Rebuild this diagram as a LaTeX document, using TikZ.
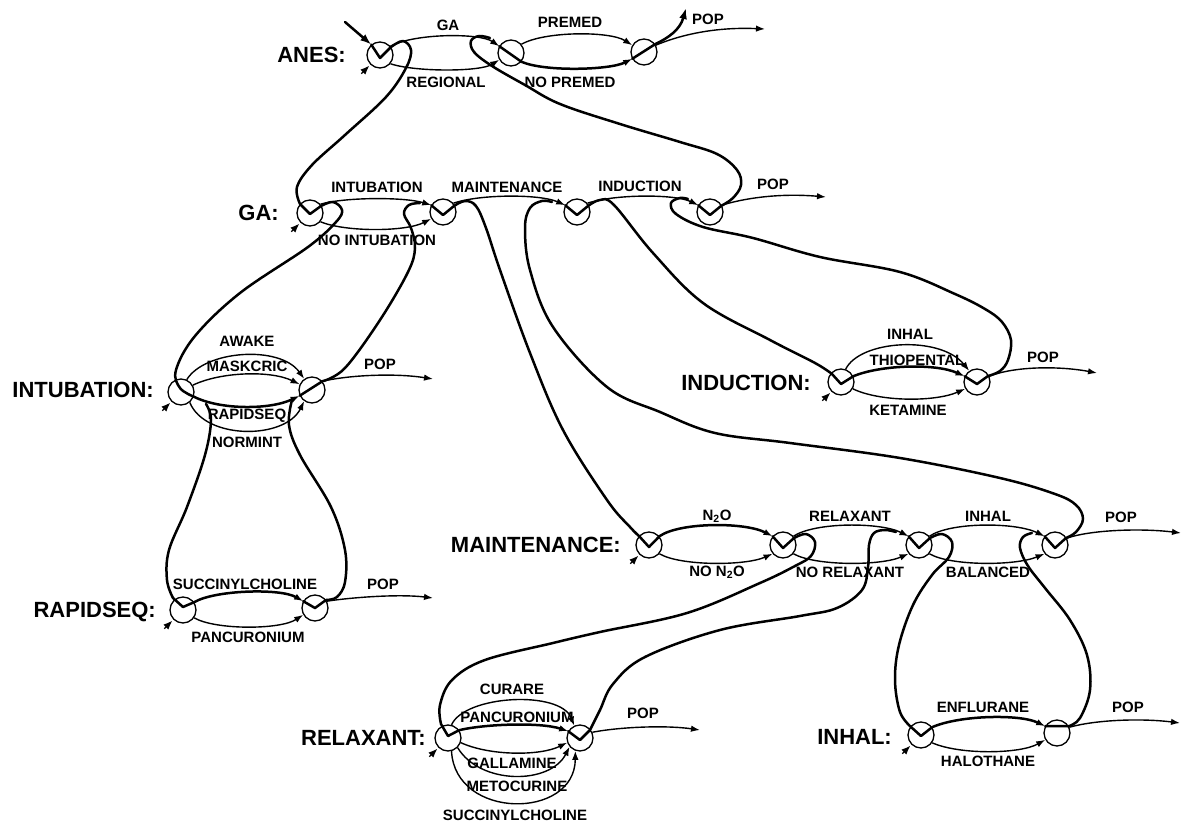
\documentclass[tikz,border=0pt]{standalone}
\usepackage{fontspec}
\setmainfont{Liberation Sans}
\usetikzlibrary{arrows.meta,calc}
\begin{document}
\begin{tikzpicture}[x=1pt,y=-1pt,
  st/.style={circle,draw,line width=1.3pt,minimum size=26pt,inner sep=0pt},
  arc/.style={line width=1.4pt,-{Latex[length=9pt,width=6.5pt]}},
  tarc/.style={line width=2.5pt,-{Latex[length=9pt,width=6.5pt]}},
  tp/.style={line width=2.5pt,line join=round,line cap=round},
  lab/.style={font=\bfseries\fontsize{15}{15}\selectfont,inner sep=0pt},
  big/.style={font=\bfseries\fontsize{22}{22}\selectfont,inner sep=0pt,anchor=east},
  entry/.style={-{Latex[length=9pt,width=7pt]},line width=1.2pt}]
\useasboundingbox[fill=white] (0,0) rectangle (1184,826);

% ---------- states ----------
\node[st] (A1) at (380,55) {};
\node[st] (A2) at (511,53) {};
\node[st] (A3) at (644,52) {};
\node[st] (G1) at (310,213) {};
\node[st] (G2) at (443,212) {};
\node[st] (G3) at (577,212) {};
\node[st] (G4) at (710,212) {};
\node[st] (I1) at (181,392) {};
\node[st] (I2) at (312,390) {};
\node[st] (R1) at (183,610) {};
\node[st] (R2) at (315,608) {};
\node[st] (D1) at (841,382) {};
\node[st] (D2) at (977,382) {};
\node[st] (M1) at (649,545) {};
\node[st] (M2) at (783,545) {};
\node[st] (M3) at (919,545) {};
\node[st] (M4) at (1055,545) {};
\node[st] (L1) at (448,738) {};
\node[st] (L2) at (580,738) {};
\node[st] (H1) at (921,735) {};
\node[st] (H2) at (1057,733) {};

% ---------- network names ----------
\node[big] (nA) at (346,55) {ANES:};
\node[big] (nG) at (279,213) {GA:};
\node[big] (nI) at (154,390) {INTUBATION:};
\node[big] (nR) at (156,612) {RAPIDSEQ:};
\node[big] (nD) at (811,383) {INDUCTION:};
\node[big] (nM) at (621,545) {MAINTENANCE:};
\node[big] (nL) at (426,738) {RELAXANT:};
\node[big] (nH) at (892,737) {INHAL:};

% ---------- entry markers ----------
\foreach \s in {A1,G1,I1,R1,D1,M1,L1,H1}
  \draw[entry] ($(\s.225)+(-9,9)$) -- ($(\s.225)+(-1,1)$);

% ---------- ANES arcs ----------
\draw[arc] (A1.40) .. controls (415,33) and (480,33) .. (A2.150);
\draw[arc] (A1.-40) .. controls (415,72) and (480,72) .. (A2.-150);
\draw[arc] (A2.40) .. controls (545,31) and (610,31) .. (A3.150);
\draw[tarc] (A2.-40) .. controls (545,72) and (610,70) .. (A3.-150);
\draw[arc] (A3.30) .. controls (685,33) and (720,27) .. (765,29);
\node[lab] (tGA) at (448,25) {GA};
\node[lab] (tREG) at (446,82) {REGIONAL};
\node[lab] (tPRE) at (570,22) {PREMED};
\node[lab] (tNPR) at (570,82) {NO PREMED};
\node[lab] (tP1) at (708,19) {POP};

% ---------- GA arcs ----------
\draw[arc] (G1.40) .. controls (345,197) and (405,197) .. (G2.150);
\draw[arc] (G1.-40) .. controls (345,232) and (405,232) .. (G2.-150);
\draw[arc] (G2.40) .. controls (480,194) and (540,194) .. (G3.150);
\draw[arc] (G3.40) .. controls (615,194) and (675,194) .. (G4.150);
\draw[arc] (G4.30) .. controls (745,198) and (780,193) .. (826,197);
\node[lab] (tINT) at (377,187) {INTUBATION};
\node[lab] (tNINT) at (377,240) {NO INTUBATION};
\node[lab] (tMAI) at (507,187) {MAINTENANCE};
\node[lab] (tIND) at (640,186) {INDUCTION};
\node[lab] (tP2) at (773,184) {POP};

% ---------- INTUBATION arcs ----------
\draw[arc] (I1.65) .. controls (205,350) and (280,345) .. (I2.125);
\draw[arc] (I1.30) .. controls (220,372) and (270,370) .. (I2.155);
\draw[tarc] (I1.-20) .. controls (220,410) and (270,410) .. (I2.-155);
\draw[arc] (I1.-50) .. controls (205,440) and (285,440) .. (I2.-125);
\draw[arc] (I2.40) .. controls (350,375) and (395,373) .. (433,379);
\node[lab] (tAW) at (247,341) {AWAKE};
\node[lab] (tMC) at (247,366) {MASKCRIC};
\node[lab] (tRS) at (247,416) {RAPIDSEQ};
\node[lab] (tNM) at (247,442) {NORMINT};
\node[lab] (tP3) at (380,364) {POP};

% ---------- RAPIDSEQ arcs ----------
\draw[tarc] (R1.35) .. controls (215,590) and (280,588) .. (R2.150);
\draw[arc] (R1.-35) .. controls (215,630) and (280,630) .. (R2.-150);
\draw[arc] (R2.30) .. controls (355,597) and (400,594) .. (433,598);
\node[lab] (tSU1) at (245,584) {SUCCINYLCHOLINE};
\node[lab] (tPA1) at (248,637) {PANCURONIUM};
\node[lab] (tP4) at (383,584) {POP};

% ---------- INDUCTION arcs ----------
\draw[arc] (D1.70) .. controls (860,340) and (940,335) .. (D2.125);
\draw[tarc] (D1.25) .. controls (880,365) and (935,363) .. (D2.155);
\draw[arc] (D1.-30) .. controls (880,402) and (935,402) .. (D2.-150);
\draw[arc] (D2.25) .. controls (1015,366) and (1060,366) .. (1097,373);
\node[lab] (tIH1) at (910,334) {INHAL};
\node[lab] (tTH) at (917,360) {THIOPENTAL};
\node[lab] (tKE) at (908,410) {KETAMINE};
\node[lab] (tP5) at (1043,357) {POP};

% ---------- MAINTENANCE arcs ----------
\draw[tarc] (M1.40) .. controls (680,522) and (745,522) .. (M2.140);
\draw[arc] (M1.-40) .. controls (680,566) and (745,566) .. (M2.-140);
\draw[arc] (M2.40) .. controls (815,522) and (880,522) .. (M3.140);
\draw[arc] (M2.-40) .. controls (815,566) and (880,566) .. (M3.-140);
\draw[arc] (M3.40) .. controls (950,522) and (1015,522) .. (M4.140);
\draw[arc] (M3.-40) .. controls (950,566) and (1015,566) .. (M4.-140);
\draw[arc] (M4.30) .. controls (1090,530) and (1140,528) .. (1181,533);
\node[lab] (tN2O) at (717,516) {N\textsubscript{2}O};
\node[lab] (tNN2O) at (717,572) {NO N\textsubscript{2}O};
\node[lab] (tREL) at (850,516) {RELAXANT};
\node[lab] (tNREL) at (850,572) {NO RELAXANT};
\node[lab] (tIH2) at (988,516) {INHAL};
\node[lab] (tBAL) at (988,572) {BALANCED};
\node[lab] (tP6) at (1121,517) {POP};

% ---------- RELAXANT arcs ----------
\draw[arc] (L1.75) .. controls (465,695) and (560,690) .. (L2.115);
\draw[tarc] (L1.35) .. controls (485,724) and (540,722) .. (L2.150);
\draw[arc] (L1.-20) .. controls (490,756) and (540,756) .. (L2.-160);
\draw[arc] (L1.-45) .. controls (480,785) and (550,785) .. (L2.-140);
\draw[arc] (L1.-75) .. controls (455,820) and (575,820) .. (L2.-110);
\draw[arc] (L2.25) .. controls (620,727) and (665,725) .. (700,730);
\node[lab] (tCU) at (512,689) {CURARE};
\node[lab] (tPA2) at (517,717) {PANCURONIUM};
\node[lab] (tGAL) at (512,763) {GALLAMINE};
\node[lab] (tMET) at (517,786) {METOCURINE};
\node[lab] (tSU2) at (515,815) {SUCCINYLCHOLINE};
\node[lab] (tP7) at (643,713) {POP};

% ---------- INHAL arcs ----------
\draw[tarc] (H1.35) .. controls (960,715) and (1020,714) .. (H2.150);
\draw[arc] (H1.-35) .. controls (960,755) and (1020,754) .. (H2.-150);
\draw[arc] (H2.25) .. controls (1095,720) and (1140,718) .. (1180,723);
\node[lab] (tEN) at (983,707) {ENFLURANE};
\node[lab] (tHA) at (988,761) {HALOTHANE};
\node[lab] (tP8) at (1128,707) {POP};

% ---------- traversal path ----------
\draw[tp,-{Latex[length=11pt,width=8pt]}] (345,22) -- (A1.130);
\draw[tp] (A1.130) -- (380,58) -- (391,47) -- plot[smooth,tension=0.6] coordinates {(391,47) (403,41) (411,50) (406,68) (386,97) (345,135) (312,165) (297,187) (300,204)} -- (310,214) -- (321,206)
  -- plot[smooth,tension=0.6] coordinates {(321,206) (333,202) (342,210) (336,222) (308,247) (240,293) (195,336) (176,370) (180,388) (I1.-20)};
\draw[tp] plot[smooth,tension=0.6] coordinates {(206,404) (211,420) (205,455) (187,507) (169,550) (167,580) (173,598)} -- (183,607) -- (R1.35);
\draw[tp] (R2.150) -- (315,608) -- (326,600) -- plot[smooth,tension=0.6] coordinates {(326,600) (337,597) (345,582) (345,550) (331,507) (300,455) (289,425) (292,400)};
\draw[tp] (I2.-155) -- (I2.40) -- plot[smooth,tension=0.6] coordinates {(I2.40) (345,368) (380,320) (408,272) (415,248) (411,228) (404,214) (409,205) (420,203)};
\draw[tp] (G2.150) -- (443,215) -- (454,206) -- plot[smooth,tension=0.6] coordinates {(454,206) (465,201) (476,206) (486,228) (500,270) (530,353) (563,430) (607,500) (630,527) (639,536)} -- (649,547) -- (M1.40);
\draw[tp] (M2.140) -- (783,548) -- (794,538) -- plot[smooth,tension=0.6] coordinates {(794,538) (806,534) (815,542) (811,556) (795,566) (760,583) (687,613) (600,632) (553,643) (485,660) (452,680) (440,705) (441,724)} -- (448,736) -- (L1.35);
\draw[tp] (L2.150) -- (580,740) -- (590,730) -- plot[smooth,tension=0.6] coordinates {(590,730) (600,710) (613,684) (645,657) (720,630) (800,616) (837,608) (862,590) (868,567) (869,545) (874,533) (885,530) (896,532)};
\draw[tp] (M3.140) -- (919,548) -- (930,538) -- plot[smooth,tension=0.6] coordinates {(930,538) (942,534) (952,542) (949,557) (932,575) (913,605) (899,645) (895,680) (900,712) (911,727)} -- (921,736) -- (H1.35);
\draw[tp] (H2.150) -- (H2.30) -- plot[smooth,tension=0.6] coordinates {(H2.30) (1080,718) (1090,690) (1087,655) (1070,620) (1045,588) (1028,566) (1020,548) (1023,537) (1032,533)};
\draw[tp] (M4.140) -- (1055,548) -- (1066,538) -- plot[smooth,tension=0.6] coordinates {(1066,538) (1076,532) (1083,519) (1076,505) (1055,494) (1000,478) (900,458) (790,443) (715,433) (660,412) (607,387) (553,327) (530,270) (525,228) (530,208) (542,201) (552,202)};
\draw[tp] (G3.150) -- (577,215) -- (588,206) -- plot[smooth,tension=0.6] coordinates {(588,206) (600,200) (614,205) (653,253) (703,303) (770,340) (815,363) (832,374)} -- (841,384) -- (D1.25);
\draw[tp] (D2.155) -- (977,384) -- (988,376) -- plot[smooth,tension=0.6] coordinates {(988,376) (1000,371) (1008,360) (1011,340) (1002,322) (985,309) (955,294) (900,272) (820,257) (753,238) (703,227) (676,214) (671,203) (680,198) (688,199)};
\draw[tp] (G4.150) -- (710,215) -- (721,206) -- plot[smooth,tension=0.6] coordinates {(721,206) (733,198) (741,185) (737,170) (717,154) (680,142) (620,124) (560,104) (525,85) (492,66) (474,52) (471,41) (479,36) (490,38)};
\draw[tp] (A2.150) -- (A2.-40);
\draw[tp,-{Latex[length=11pt,width=8pt]}] (A3.-150) -- (A3.35) .. controls (668,38) and (680,30) .. (686,8);
\end{tikzpicture}
\end{document}
